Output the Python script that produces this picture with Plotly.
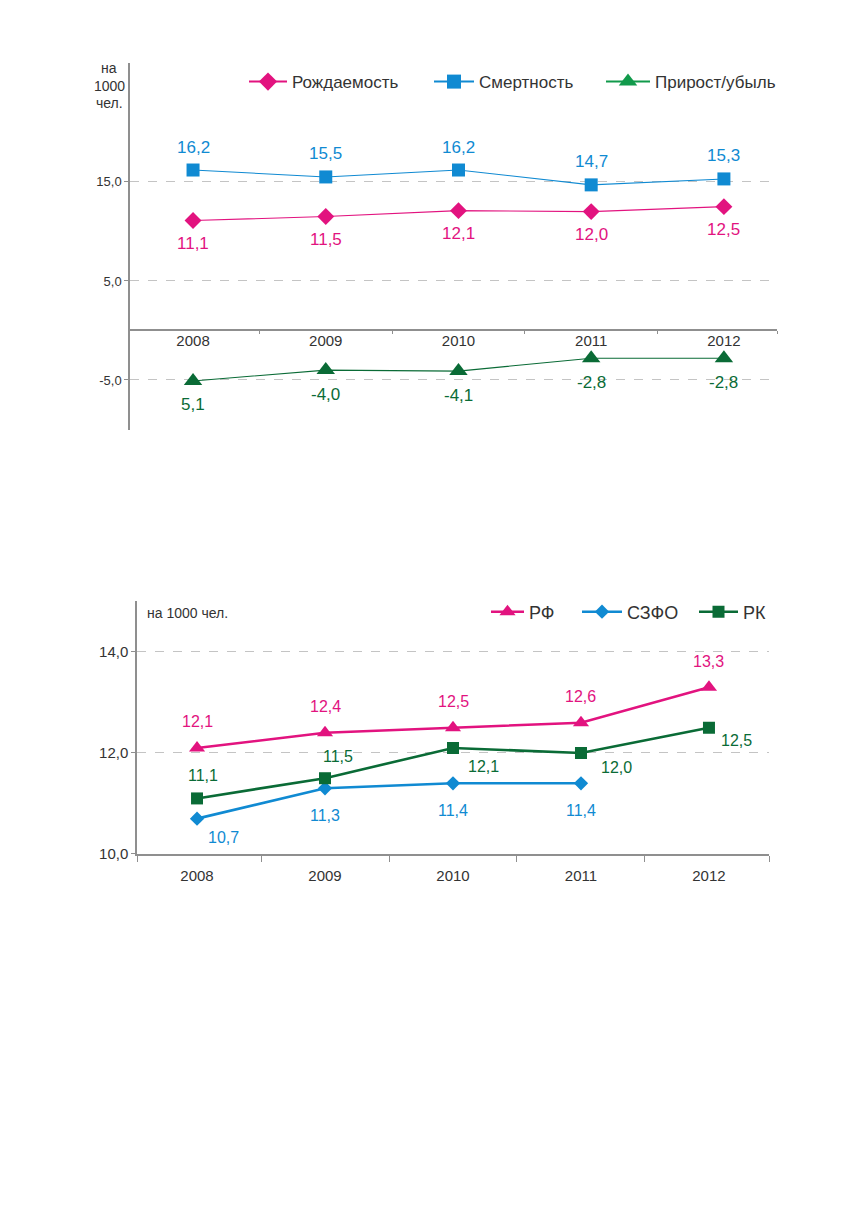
import plotly.graph_objects as go

# ---- data -------------------------------------------------------------
years = ["2008", "2009", "2010", "2011", "2012"]

birth = [11.1, 11.5, 12.1, 12.0, 12.5]          # Рождаемость
death = [16.2, 15.5, 16.2, 14.7, 15.3]          # Смертность
growth = [-5.1, -4.0, -4.1, -2.8, -2.8]         # Прирост/убыль
growth_text = ["5,1", "-4,0", "-4,1", "-2,8", "-2,8"]

rf = [12.1, 12.4, 12.5, 12.6, 13.3]             # РФ
szfo = [10.7, 11.3, 11.4, 11.4, None]           # СЗФО
rk = [11.1, 11.5, 12.1, 12.0, 12.5]             # РК

top_ticks = [-5, 5, 15]
top_ticktext = ["-5,0", "5,0", "15,0"]
bot_ticks = [10, 12, 14]
bot_ticktext = ["10,0", "12,0", "14,0"]
unit_lines = ["на", "1000", "чел."]

# ---- style ------------------------------------------------------------
PINK = "#E2137F"
BLUE = "#108AD2"
GREEN = "#0A6B36"
GREEN_LEG = "#119A4B"
AXIS = "#8F8F8F"
GRID = "#C4C4C4"
TXT = "#333333"
FONT = "Liberation Sans, Arial, sans-serif"

# page is 856x1229 with the default 8px body margin around the figure;
# the photo comes out very slightly squeezed vertically
PAGE_W, PAGE_H, BODY, S_Y = 856, 1229, 8, 0.9935
W, H = PAGE_W - 2 * BODY, PAGE_H - 2 * BODY


def px_x(p):
    return (p - BODY) / W


def px_y(p):
    return (H - (p / S_Y - BODY)) / H


def fmt(v):
    return f"{v:.1f}".replace(".", ",")


x = list(range(len(years)))

# top chart geometry (page pixels)
top_dom_x = [px_x(130), px_x(777)]
top_dom_y = [px_y(430), px_y(63)]
top_xr = [-0.475, 4.4]
top_yr = [-10.05, 27.0]

# bottom chart geometry
bot_dom_x = [px_x(137), px_x(769)]
bot_dom_y = [px_y(854), px_y(601.5)]
bot_xr = [-0.469, 4.469]
bot_yr = [10, 15]

fig = go.Figure()

# ---- top chart traces -------------------------------------------------
# name, values, line colour, legend colour, symbol, size, legend id, legend x, text gap
top_series = [
    ("Рождаемость", birth, PINK, PINK, "diamond", 13, "legend", 244, 38),
    ("Смертность", death, BLUE, BLUE, "square", 13, "legend2", 429, 40),
    ("Прирост/убыль", growth, GREEN, GREEN_LEG, "triangle-up", 16, "legend3", 601, 44),
]
for name, vals, col, _, sym, size, _, _, _ in top_series:
    fig.add_trace(go.Scatter(
        x=x, y=vals, mode="lines+markers", xaxis="x", yaxis="y",
        line=dict(color=col, width=1.1),
        marker=dict(symbol=sym, size=size, color=col),
        showlegend=False, hoverinfo="skip",
    ))
# legend entries (the legend green is brighter than the line)
for name, vals, _, lcol, sym, size, leg, _, _ in top_series:
    fig.add_trace(go.Scatter(
        x=[None], y=[None], mode="lines+markers", xaxis="x", yaxis="y",
        name=name, legend=leg,
        line=dict(color=lcol, width=2),
        marker=dict(symbol=sym, size=size + 1, color=lcol),
    ))

# ---- bottom chart traces ----------------------------------------------
bot_series = [
    ("РФ", rf, PINK, "triangle-up", 14, "legend4", 486, 33),
    ("СЗФО", szfo, BLUE, "diamond", 11, "legend5", 577, 40),
    ("РК", rk, GREEN, "square", 12, "legend6", 694, 39),
]
for name, vals, col, sym, size, leg, _, _ in bot_series:
    fig.add_trace(go.Scatter(
        x=x, y=vals, mode="lines+markers", xaxis="x2", yaxis="y2",
        name=name, legend=leg,
        line=dict(color=col, width=2.6),
        marker=dict(symbol=sym, size=size, color=col),
        connectgaps=False, hoverinfo="skip",
    ))

# ---- value labels -------------------------------------------------------
ann = []


def add_labels(vals, texts, col, xref, yref, shifts, size):
    for i, v in enumerate(vals):
        if v is None:
            continue
        dx, dy = shifts[i]
        ann.append(dict(
            x=x[i], y=v, xref=xref, yref=yref, text=texts[i], showarrow=False,
            xshift=dx, yshift=dy, font=dict(family=FONT, size=size, color=col),
        ))


add_labels(death, [fmt(v) for v in death], BLUE, "x", "y", [(0, 23)] * 5, 17)
add_labels(birth, [fmt(v) for v in birth], PINK, "x", "y", [(0, -23)] * 5, 17)
add_labels(growth, growth_text, GREEN, "x", "y", [(0, -24)] * 5, 17)

add_labels(rf, [fmt(v) for v in rf], PINK, "x2", "y2", [(0, 26)] * 5, 16)
add_labels(szfo, [fmt(v) if v is not None else "" for v in szfo], BLUE, "x2", "y2",
           [(26, -19), (0, -27), (0, -27), (0, -27), (0, 0)], 16)
add_labels(rk, [fmt(v) for v in rk], GREEN, "x2", "y2",
           [(6, 23), (13, 22), (30, -19), (36, -15), (28, -13)], 16)

# axis unit titles
for i, line in enumerate(unit_lines):
    ann.append(dict(x=px_x(109), y=px_y(68 + 17.5 * i), xref="paper", yref="paper",
                    xanchor="center", yanchor="middle", text=line, showarrow=False,
                    font=dict(family=FONT, size=14, color=TXT)))
ann.append(dict(x=px_x(145), y=px_y(613), xref="paper", yref="paper",
                xanchor="left", yanchor="middle", text="на 1000 чел.", showarrow=False,
                font=dict(family=FONT, size=14, color=TXT)))

# x-axis of the top chart sits at y = 0
zero_pos = top_dom_y[0] + (0 - top_yr[0]) / (top_yr[1] - top_yr[0]) * (top_dom_y[1] - top_dom_y[0])

xaxis_common = dict(
    tickmode="array", tickvals=x, ticktext=years, ticks="",
    showline=True, linecolor=AXIS, linewidth=1.5, showgrid=False, zeroline=False,
    tickfont=dict(family=FONT, size=15, color=TXT),
)
yaxis_common = dict(
    showline=True, linecolor=AXIS, linewidth=1.5, ticks="outside", ticklen=4,
    tickcolor=AXIS, showgrid=True, gridcolor=GRID, griddash="dash", gridwidth=1,
    zeroline=False, tickmode="array",
)

legends = {}
for *_, leg, lx, gap in top_series:
    legends[leg] = dict(orientation="h", x=px_x(lx), y=px_y(82), xanchor="left",
                        yanchor="middle", font=dict(family=FONT, size=17, color=TXT),
                        bgcolor="rgba(0,0,0,0)", itemclick=False, itemwidth=gap)
for *_, leg, lx, gap in bot_series:
    legends[leg] = dict(orientation="h", x=px_x(lx), y=px_y(612), xanchor="left",
                        yanchor="middle", font=dict(family=FONT, size=18, color=TXT),
                        bgcolor="rgba(0,0,0,0)", itemclick=False, itemwidth=gap)

fig.update_layout(
    width=W, height=H, margin=dict(l=0, r=0, t=0, b=0),
    paper_bgcolor="white", plot_bgcolor="white",
    font=dict(family=FONT, color=TXT),
    xaxis=dict(xaxis_common, domain=top_dom_x, range=top_xr, anchor="free",
               position=zero_pos, ticklabelstandoff=-3,
               minor=dict(tickmode="array", tickvals=[0.5, 1.5, 2.5, 3.5, top_xr[1]],
                          ticks="outside", ticklen=3, tickcolor=AXIS)),
    yaxis=dict(yaxis_common, domain=top_dom_y, range=top_yr, anchor="x",
               tickvals=top_ticks, ticktext=top_ticktext,
               tickfont=dict(family=FONT, size=13, color=TXT)),
    xaxis2=dict(xaxis_common, domain=bot_dom_x, range=bot_xr, anchor="y2",
                ticklabelstandoff=7,
                minor=dict(tickmode="array", tickvals=[bot_xr[0], 0.5, 1.5, 2.5, 3.5, bot_xr[1]],
                           ticks="outside", ticklen=6, tickcolor=AXIS)),
    yaxis2=dict(yaxis_common, domain=bot_dom_y, range=bot_yr, anchor="x2",
                tickvals=bot_ticks, ticktext=bot_ticktext,
                tickfont=dict(family=FONT, size=15, color=TXT)),
    annotations=ann,
    **legends,
)

fig.write_html("out.html")
